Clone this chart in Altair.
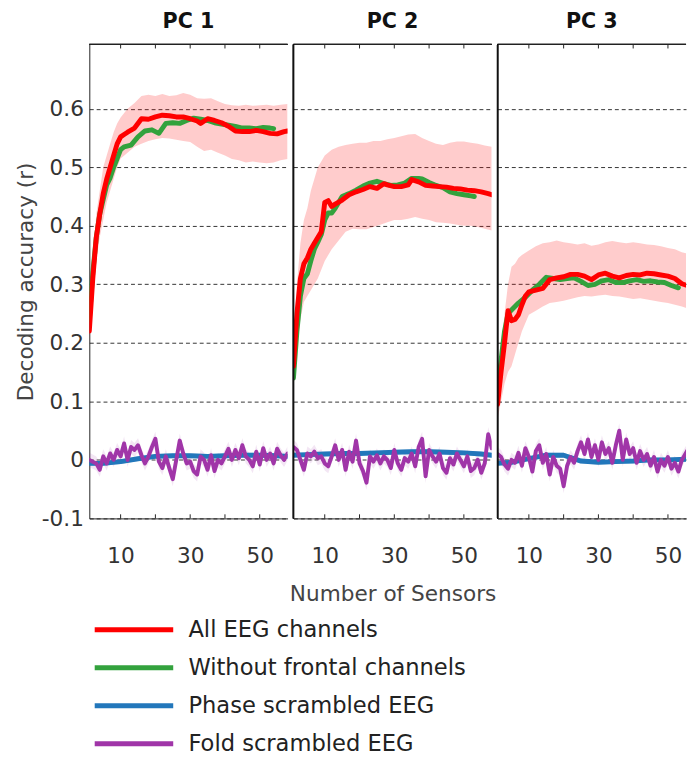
import altair as alt
import pandas as pd

SERIES = ["All EEG channels", "Without frontal channels", "Phase scrambled EEG", "Fold scrambled EEG"]
COLORS = ["#ff0000", "#33a23d", "#2277bb", "#a035a8"]
PANELS = ["PC 1", "PC 2", "PC 3"]
Y_TICKS = [-0.1, 0.0, 0.1, 0.2, 0.3, 0.4, 0.5, 0.6]
X_LABELS = [10, 30, 50]
X_TICKS = [10, 20, 30, 40, 50]
SENSORS = list(range(1, 59))
Y_MIN, Y_MAX = -0.1, 0.71
X_MAX = [58, 58, 55.2]

# ---------------- PC 1 ----------------
PC1_RED_N = [1, 2, 3, 4, 5, 6, 7, 8, 9, 10, 11, 12, 14, 16, 18, 20, 22, 24, 26, 28, 30, 32, 33, 35, 37, 39, 41, 43, 45, 47, 49, 51, 53, 55, 57, 58]
PC1_RED = [0.22, 0.31, 0.38, 0.42, 0.455, 0.48, 0.5, 0.52, 0.54, 0.552, 0.556, 0.56, 0.567, 0.583, 0.582, 0.586, 0.589, 0.588, 0.586, 0.586, 0.583, 0.579, 0.575, 0.583, 0.58, 0.576, 0.57, 0.562, 0.561, 0.561, 0.563, 0.561, 0.558, 0.557, 0.561, 0.562]
PC1_GREEN_N = [1, 2, 3, 4, 5, 6, 7, 8, 9, 10, 11, 13, 15, 17, 19, 21, 23, 25, 27, 29, 31, 33, 35, 37, 39, 41, 43, 45, 47, 49, 51, 53, 54]
PC1_GREEN = [0.24, 0.32, 0.38, 0.42, 0.445, 0.47, 0.482, 0.5, 0.515, 0.53, 0.535, 0.538, 0.552, 0.562, 0.564, 0.558, 0.575, 0.576, 0.575, 0.58, 0.584, 0.582, 0.58, 0.576, 0.574, 0.572, 0.57, 0.567, 0.567, 0.566, 0.568, 0.567, 0.566]
PC1_BAND_N = [1, 2, 3, 4, 5, 6, 7, 8, 9, 10, 12, 14, 16, 18, 20, 22, 24, 26, 28, 30, 32, 34, 36, 38, 40, 42, 44, 46, 48, 50, 52, 54, 56, 58]
PC1_UPPER = [0.24, 0.34, 0.42, 0.46, 0.5, 0.52, 0.54, 0.56, 0.575, 0.585, 0.6, 0.61, 0.622, 0.624, 0.622, 0.625, 0.622, 0.623, 0.627, 0.624, 0.618, 0.617, 0.618, 0.613, 0.608, 0.606, 0.605, 0.607, 0.605, 0.606, 0.607, 0.605, 0.607, 0.608]
PC1_LOWER = [0.2, 0.28, 0.34, 0.38, 0.41, 0.44, 0.46, 0.48, 0.5, 0.515, 0.525, 0.535, 0.54, 0.545, 0.548, 0.55, 0.549, 0.547, 0.545, 0.543, 0.535, 0.528, 0.53, 0.525, 0.52, 0.514, 0.512, 0.508, 0.51, 0.508, 0.507, 0.508, 0.512, 0.514]
PC1_BLUE = [-0.006, -0.006, -0.003, 0.002, 0.006, 0.007, 0.007, 0.006, 0.007, 0.008, 0.008, 0.007, 0.006]
PC1_PURPLE = [0.0, -0.003, -0.006, -0.017, 0.006, -0.006, 0.011, 0.0, 0.017, 0.006,
              0.028, 0.0, 0.022, 0.017, 0.025, 0.008, -0.006, 0.006, 0.022, 0.036,
              -0.003, -0.014, 0.006, -0.014, -0.033, 0.0, 0.033, 0.011, -0.006, -0.003,
              -0.019, -0.025, 0.006, 0.0, -0.017, 0.008, -0.019, 0.0, -0.006, 0.006,
              0.019, 0.0, 0.017, 0.003, 0.025, 0.006, 0.0, -0.011, 0.014, -0.008,
              0.02, 0.0, 0.011, -0.006, 0.019, 0.008, 0.0, 0.011]

# ---------------- PC 2 ----------------
PC2_RED_N = [1, 2, 3, 4, 5, 6, 7, 8, 9, 10, 11, 12, 13, 15, 17, 19, 21, 23, 25, 27, 28, 30, 32, 34, 35, 37, 39, 41, 43, 45, 47, 49, 51, 53, 55, 57, 58]
PC2_RED = [0.16, 0.25, 0.31, 0.335, 0.345, 0.36, 0.37, 0.38, 0.39, 0.44, 0.443, 0.433, 0.437, 0.444, 0.453, 0.458, 0.462, 0.467, 0.464, 0.472, 0.47, 0.467, 0.467, 0.47, 0.479, 0.475, 0.469, 0.468, 0.467, 0.466, 0.464, 0.463, 0.461, 0.46, 0.458, 0.455, 0.453]
PC2_GREEN_N = [1, 2, 3, 4, 5, 6, 7, 8, 9, 10, 11, 12, 13, 15, 17, 19, 21, 23, 25, 27, 29, 31, 33, 35, 37, 38, 40, 42, 44, 46, 48, 50, 52, 53]
PC2_GREEN = [0.14, 0.22, 0.28, 0.31, 0.318, 0.34, 0.36, 0.372, 0.385, 0.41, 0.422, 0.422, 0.43, 0.45, 0.455, 0.461, 0.468, 0.473, 0.476, 0.472, 0.469, 0.47, 0.473, 0.481, 0.481, 0.48, 0.474, 0.469, 0.465, 0.458, 0.455, 0.453, 0.451, 0.45]
PC2_BAND_N = [1, 2, 3, 4, 5, 6, 7, 8, 9, 10, 12, 14, 16, 18, 20, 22, 24, 26, 28, 30, 32, 34, 36, 38, 40, 42, 44, 46, 48, 50, 52, 54, 56, 58]
PC2_UPPER = [0.2, 0.3, 0.37, 0.41, 0.43, 0.46, 0.48, 0.5, 0.51, 0.52, 0.53, 0.535, 0.538, 0.54, 0.542, 0.542, 0.545, 0.545, 0.548, 0.55, 0.553, 0.556, 0.557, 0.55, 0.545, 0.54, 0.538, 0.542, 0.544, 0.544, 0.542, 0.54, 0.537, 0.535]
PC2_LOWER = [0.12, 0.2, 0.24, 0.27, 0.28, 0.29, 0.3, 0.31, 0.325, 0.34, 0.36, 0.375, 0.39, 0.395, 0.394, 0.394, 0.398, 0.402, 0.406, 0.41, 0.41, 0.412, 0.415, 0.412, 0.41, 0.406, 0.405, 0.404, 0.402, 0.4, 0.4, 0.398, 0.395, 0.392]
PC2_BLUE = [0.008, 0.009, 0.01, 0.011, 0.011, 0.012, 0.013, 0.014, 0.014, 0.013, 0.012, 0.01, 0.008]
PC2_PURPLE = [0.022, 0.017, 0.0, -0.017, 0.011, 0.006, 0.014, 0.003, 0.006, -0.006,
              -0.011, 0.006, 0.025, 0.0, 0.017, -0.017, 0.014, -0.003, 0.033, -0.006,
              -0.019, -0.039, 0.006, -0.003, 0.008, -0.006, 0.006, 0.0, -0.014, 0.017,
              -0.006, -0.017, 0.003, -0.003, 0.011, -0.011, 0.022, 0.036, -0.028, 0.017,
              0.006, -0.003, 0.011, -0.014, -0.022, 0.003, -0.008, 0.011, 0.0, -0.011,
              0.006, -0.019, -0.014, 0.0, -0.022, -0.006, 0.044, 0.02]

# ---------------- PC 3 ----------------
PC3_RED_N = [1, 2, 3, 4, 5, 6, 7, 8, 9, 10, 12, 14, 16, 18, 20, 22, 24, 26, 28, 30, 32, 34, 36, 38, 40, 42, 44, 46, 48, 50, 52, 54, 56, 58]
PC3_RED = [0.095, 0.15, 0.2, 0.255, 0.238, 0.24, 0.248, 0.265, 0.28, 0.287, 0.29, 0.293, 0.308, 0.311, 0.313, 0.317, 0.317, 0.314, 0.308, 0.316, 0.319, 0.314, 0.311, 0.315, 0.317, 0.316, 0.319, 0.318, 0.316, 0.314, 0.31, 0.301, 0.297, 0.296]
PC3_GREEN_N = [1, 2, 3, 4, 5, 7, 9, 11, 13, 15, 17, 19, 21, 23, 25, 27, 29, 31, 33, 35, 37, 39, 41, 43, 45, 47, 49, 51, 53]
PC3_GREEN = [0.12, 0.17, 0.22, 0.25, 0.256, 0.268, 0.278, 0.29, 0.3, 0.312, 0.31, 0.308, 0.31, 0.311, 0.305, 0.298, 0.3, 0.306, 0.308, 0.303, 0.303, 0.306, 0.308, 0.305, 0.306, 0.304, 0.303, 0.298, 0.294]
PC3_BAND_N = [1, 2, 3, 4, 5, 6, 7, 8, 10, 12, 14, 16, 18, 20, 22, 24, 26, 28, 30, 32, 34, 36, 38, 40, 42, 44, 46, 48, 50, 52, 54, 56, 58]
PC3_UPPER = [0.12, 0.19, 0.25, 0.3, 0.33, 0.335, 0.345, 0.35, 0.358, 0.365, 0.37, 0.372, 0.375, 0.372, 0.37, 0.368, 0.37, 0.366, 0.368, 0.372, 0.374, 0.372, 0.37, 0.372, 0.37, 0.368, 0.367, 0.365, 0.362, 0.36, 0.355, 0.352, 0.35]
PC3_LOWER = [0.07, 0.1, 0.13, 0.15, 0.16, 0.18, 0.2, 0.22, 0.248, 0.255, 0.262, 0.268, 0.27, 0.272, 0.275, 0.278, 0.28, 0.279, 0.281, 0.282, 0.28, 0.279, 0.277, 0.275, 0.276, 0.274, 0.272, 0.27, 0.268, 0.265, 0.262, 0.258, 0.255]
PC3_BLUE = [-0.006, -0.004, 0.002, 0.008, 0.008, -0.002, -0.004, -0.003, -0.002, 0.0, 0.0, 0.001, 0.002]
PC3_PURPLE = [0.01, 0.005, -0.008, -0.015, 0.0, -0.005, 0.012, -0.01, 0.02, 0.005,
              -0.02, 0.015, 0.025, -0.005, 0.01, -0.025, 0.005, -0.01, -0.015, -0.045,
              -0.01, 0.005, -0.005, 0.015, 0.03, 0.01, 0.035, 0.005, 0.025, 0.0,
              0.03, 0.01, 0.02, -0.005, 0.025, 0.05, 0.0, 0.035, 0.01, 0.02,
              -0.005, 0.015, 0.0, 0.01, -0.01, 0.005, -0.02, 0.0, -0.01, 0.005,
              -0.015, -0.005, -0.02, 0.0, 0.01, 0.02, 0.015, 0.02]

BLUE_N = [1, 5, 10, 15, 20, 25, 30, 35, 40, 45, 50, 55, 58]
BLUE_SPREAD = 0.004
PURPLE_SPREAD = 0.012

DATA = [
    dict(red_n=PC1_RED_N, red=PC1_RED, green_n=PC1_GREEN_N, green=PC1_GREEN,
         band_n=PC1_BAND_N, upper=PC1_UPPER, lower=PC1_LOWER, blue=PC1_BLUE, purple=PC1_PURPLE),
    dict(red_n=PC2_RED_N, red=PC2_RED, green_n=PC2_GREEN_N, green=PC2_GREEN,
         band_n=PC2_BAND_N, upper=PC2_UPPER, lower=PC2_LOWER, blue=PC2_BLUE, purple=PC2_PURPLE),
    dict(red_n=PC3_RED_N, red=PC3_RED, green_n=PC3_GREEN_N, green=PC3_GREEN,
         band_n=PC3_BAND_N, upper=PC3_UPPER, lower=PC3_LOWER, blue=PC3_BLUE, purple=PC3_PURPLE),
]

FONT = "DejaVu Sans"
FS = 22
PX_PER_UNIT = 202 / 57.0

color_scale = alt.Scale(domain=SERIES, range=COLORS)
legend = alt.Legend(
    title=None, orient="none", legendX=33, legendY=584, direction="vertical",
    symbolType="M-4,0H4", symbolSize=400, symbolStrokeWidth=5,
    labelFont=FONT, labelFontSize=23, labelColor="#222", labelOffset=43,
    labelLimit=500, rowPadding=13.7,
)

y_label_expr = "datum.value < 0 ? '-' + format(-datum.value, '.1f') : (datum.value == 0 ? '0' : format(datum.value, '.1f'))"


def panel(i):
    d = DATA[i]
    xmax = X_MAX[i]
    width = round((xmax - 1) * PX_PER_UNIT)
    xs = alt.Scale(domain=[1, xmax], nice=False, zero=False)
    ys = alt.Scale(domain=[Y_MIN, Y_MAX], nice=False, zero=False)

    if i == 0:
        yaxis = alt.Axis(values=Y_TICKS, labelExpr=y_label_expr, title="Decoding accuracy (r)",
                         grid=True, gridDash=[4, 3], gridColor="#333", gridWidth=1,
                         ticks=False, domain=True, domainColor="#222", domainWidth=1,
                         labelFont=FONT, labelFontSize=FS, labelColor="#333", labelPadding=6,
                         titleFont=FONT, titleFontSize=FS, titleFontWeight="normal",
                         titleColor="#444", titlePadding=4)
    else:
        yaxis = alt.Axis(values=Y_TICKS, grid=True, gridDash=[4, 3], gridColor="#333", gridWidth=1,
                         ticks=False, domain=False, labels=False, title=None)
    xaxis = alt.Axis(values=X_LABELS, ticks=False, grid=False, domain=True, domainColor="#222",
                     domainWidth=1, labelFont=FONT, labelFontSize=FS, labelColor="#333",
                     labelPadding=28, labelFlush=False,
                     title="Number of Sensors" if i == 1 else None,
                     titleFont=FONT, titleFontSize=FS, titleFontWeight="normal",
                     titleColor="#444", titlePadding=18)

    band_df = pd.DataFrame({"n": d["band_n"], "lo": d["lower"], "hi": d["upper"]})
    red_df = pd.DataFrame({"n": d["red_n"], "v": d["red"], "series": SERIES[0]})
    green_df = pd.DataFrame({"n": d["green_n"], "v": d["green"], "series": SERIES[1]})
    blue_df = pd.DataFrame({"n": BLUE_N, "v": d["blue"], "series": SERIES[2]})
    purple_df = pd.DataFrame({"n": SENSORS, "v": d["purple"], "series": SERIES[3]})
    ticks_df = pd.DataFrame({"n": X_TICKS})

    base_x = alt.X("n:Q", scale=xs, axis=xaxis)

    red_band = alt.Chart(band_df).mark_area(clip=True, color="#ff0000", opacity=0.2).encode(
        x=base_x, y=alt.Y("lo:Q", scale=ys, axis=yaxis), y2="hi:Q")
    blue_band = alt.Chart(blue_df).transform_calculate(
        lo=f"datum.v - {BLUE_SPREAD}", hi=f"datum.v + {BLUE_SPREAD}").mark_area(
        clip=True, color="#2277bb", opacity=0.25).encode(
        x=alt.X("n:Q", scale=xs), y=alt.Y("lo:Q", scale=ys), y2="hi:Q")
    purple_band = alt.Chart(purple_df).transform_calculate(
        lo=f"datum.v - {PURPLE_SPREAD}", hi=f"datum.v + {PURPLE_SPREAD}").mark_area(
        clip=True, color="#a035a8", opacity=0.12).encode(
        x=alt.X("n:Q", scale=xs), y=alt.Y("lo:Q", scale=ys), y2="hi:Q")

    def line(df, w):
        return alt.Chart(df).mark_line(clip=True, strokeWidth=w, strokeCap="round",
                                       strokeJoin="round").encode(
            x=alt.X("n:Q", scale=xs), y=alt.Y("v:Q", scale=ys),
            color=alt.Color("series:N", scale=color_scale, legend=legend))

    bottom_ticks = alt.Chart(ticks_df).mark_rule(color="#222", strokeWidth=1).encode(
        x=alt.X("n:Q", scale=xs), y=alt.Y(datum=Y_MIN, scale=ys), y2=alt.Y2(datum=Y_MIN + 0.007))
    top_ticks = alt.Chart(ticks_df).mark_rule(color="#222", strokeWidth=1).encode(
        x=alt.X("n:Q", scale=xs), y=alt.Y(datum=Y_MAX, scale=ys), y2=alt.Y2(datum=Y_MAX - 0.007))
    top_border = alt.Chart(ticks_df).mark_rule(color="#222", strokeWidth=1).encode(
        y=alt.Y(datum=Y_MAX, scale=ys))

    layers = [red_band, blue_band, purple_band,
              line(blue_df, 5), line(purple_df, 4), line(green_df, 5), line(red_df, 5),
              bottom_ticks, top_ticks, top_border]
    if i > 0:
        divider = alt.Chart(ticks_df).mark_rule(color="#111", strokeWidth=1.3).encode(
            x=alt.X(datum=1, scale=xs))
        layers.append(divider)

    return alt.layer(*layers).properties(
        width=width, height=483,
        title=alt.TitleParams(PANELS[i], font=FONT, fontSize=21, fontWeight="bold",
                              color="#111", offset=12, anchor="middle"))


chart = alt.hconcat(panel(0), panel(1), panel(2), spacing=0).properties(
    padding={"left": 15, "top": 4, "right": 0, "bottom": 0}
).configure_view(stroke=None).configure_concat(spacing=0)

chart.save("out.html", embed_options={"renderer": "svg", "actions": False})
